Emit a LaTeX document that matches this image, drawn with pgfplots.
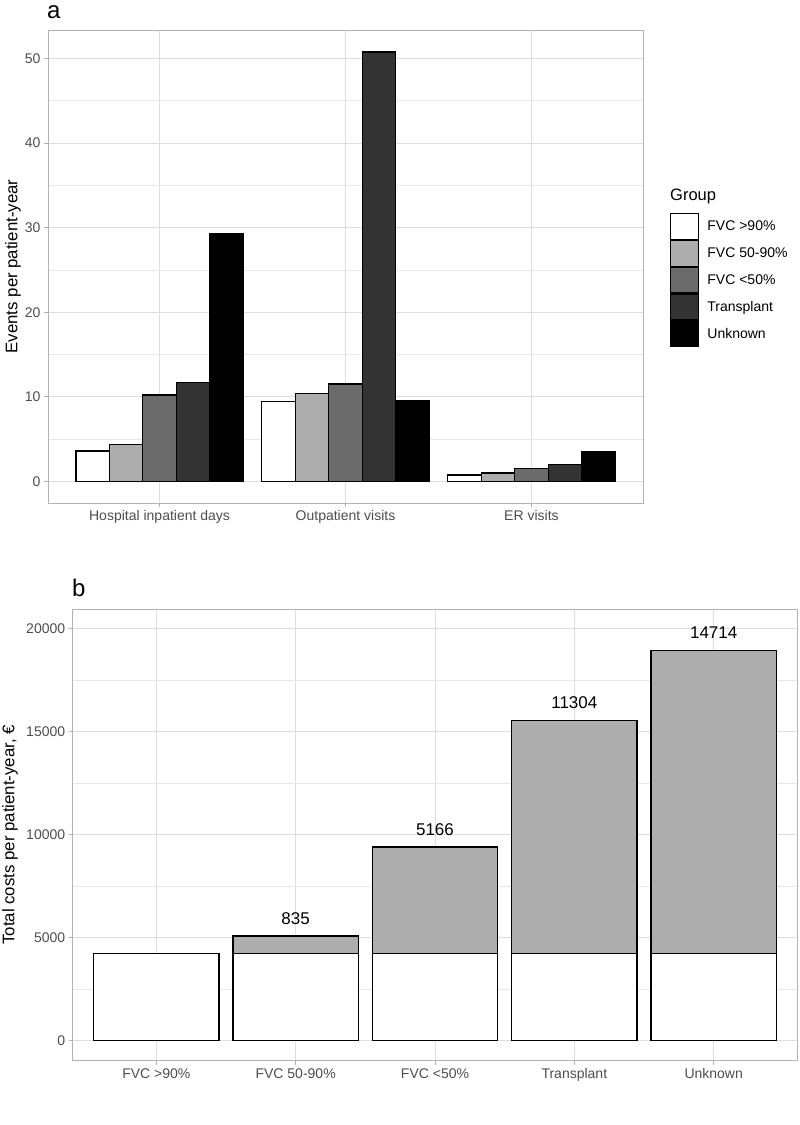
\documentclass[border=0pt]{standalone}
\usepackage{pgfplots}
\pgfplotsset{compat=1.18}
\usepackage{fontspec}
\setmainfont{Liberation Sans}
\definecolor{gB}{HTML}{ADADAD}
\definecolor{gC}{HTML}{6B6B6B}
\definecolor{gD}{HTML}{333333}
\definecolor{gE}{HTML}{000000}
\definecolor{frameC}{HTML}{B3B3B3}
\definecolor{gridC}{HTML}{DEDEDE}
\definecolor{tickC}{HTML}{4D4D4D}
\pgfplotsset{
 ggstyle/.style={
  scale only axis,
  axis line style={frameC, line width=0.9pt},
  tick align=outside,
  tick pos=left,
  major tick length=4pt,
  minor tick length=0pt,
  tick style={frameC, line width=0.8pt},
  xmajorgrids, ymajorgrids, yminorgrids,
  major grid style={gridC, line width=0.8pt},
  minor grid style={gridC!70, line width=0.5pt},
  minor y tick num=1,
  ticklabel style={font=\fontsize{14}{16}\selectfont, text=tickC},
  scaled y ticks=false,
  /pgf/number format/assume math mode=true,
  /pgf/number format/1000 sep={},
  ylabel style={font=\fontsize{16.8}{19}\selectfont, anchor=center},
 },
 keybox/.style={legend image code/.code={\draw[##1, line width=1.2pt] (0pt,-12.8pt) rectangle (28pt,12.8pt);}},
 barA/.style={ybar, bar width=0.18, bar shift=0pt, draw=black, line width=1.3pt, keybox},
}
\begin{document}
\begin{tikzpicture}
\path[use as bounding box] (0pt,0pt) rectangle (800pt,1125pt);
% ---------- panel a
\begin{axis}[ggstyle,
  at={(48pt,622pt)}, anchor=south west, width=595pt, height=473pt,
  xmin=0.4, xmax=3.6, ymin=-2.54, ymax=53.34,
  xtick={1,2,3}, xticklabels={Hospital inpatient days, Outpatient visits, ER visits},
  ytick={0,10,...,50},
  ylabel={Events per patient-year},
  ylabel style={at={(axis description cs:-0.0588,0.5)}},
  legend cell align=left,
  legend style={at={(axis description cs:1.0454,0.613)}, anchor=north west,
    draw=none, fill=none, inner sep=0pt, row sep=0pt, column sep=6pt,
    font=\fontsize{14}{17}\selectfont},
]
\addplot[barA, fill=white] coordinates {(0.64,3.62) (1.64,9.48) (2.64,0.75)};
\addlegendentry{FVC >90\%}
\addplot[barA, fill=gB] coordinates {(0.82,4.40) (1.82,10.38) (2.82,0.99)};
\addlegendentry{FVC 50-90\%}
\addplot[barA, fill=gC] coordinates {(1.00,10.22) (2.00,11.52) (3.00,1.53)};
\addlegendentry{FVC <50\%}
\addplot[barA, fill=gD] coordinates {(1.18,11.68) (2.18,50.75) (3.18,1.97)};
\addlegendentry{Transplant}
\addplot[barA, fill=gE] coordinates {(1.36,29.33) (2.36,9.50) (3.36,3.47)};
\addlegendentry{Unknown}
\end{axis}
\node[anchor=west, inner sep=0pt, font=\fontsize{16.5}{19}\selectfont] at (670pt,929pt) {Group};
\node[anchor=base west, inner sep=0pt, font=\fontsize{24}{28}\selectfont] at (47pt,1106pt) {a};
% ---------- panel b
\begin{axis}[ggstyle,
  at={(72.7pt,64.3pt)}, anchor=south west, width=724.6pt, height=451.7pt,
  xmin=0.4, xmax=5.6, ymin=-990, ymax=20937,
  xtick={1,2,3,4,5}, xticklabels={FVC >90\%, FVC 50-90\%, FVC <50\%, Transplant, Unknown},
  ytick={0,5000,...,20000},
  ylabel={Total costs per patient-year, €},
  ylabel style={at={(axis description cs:-0.0865,0.5)}},
  ybar stacked, bar width=0.9,
]
\addplot[fill=white, draw=black, line width=1.3pt] coordinates {(1,4223) (2,4223) (3,4223) (4,4223) (5,4223)};
\addplot[fill=gB, draw=black, line width=1.3pt] coordinates {(1,0) (2,835) (3,5166) (4,11304) (5,14714)};
\node[font=\fontsize{17}{20}\selectfont] at (axis cs:2,5918) {835};
\node[font=\fontsize{17}{20}\selectfont] at (axis cs:3,10249) {5166};
\node[font=\fontsize{17}{20}\selectfont] at (axis cs:4,16387) {11304};
\node[font=\fontsize{17}{20}\selectfont] at (axis cs:5,19800) {14714};
\end{axis}
\node[anchor=base west, inner sep=0pt, font=\fontsize{24}{28}\selectfont] at (72pt,528pt) {b};
\end{tikzpicture}
\end{document}
